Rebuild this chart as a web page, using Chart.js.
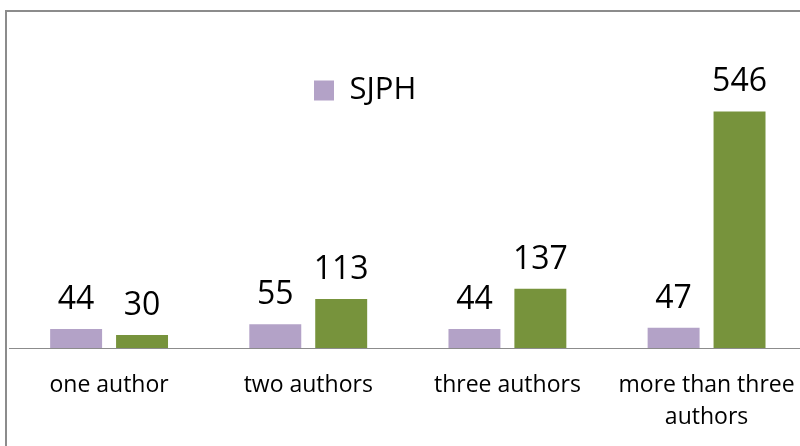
<!DOCTYPE html>
<html><head><meta charset="utf-8">
<script src="https://cdn.jsdelivr.net/npm/chart.js@4/dist/chart.umd.min.js"></script>
<style>
html,body{margin:0;padding:0;background:#fff;overflow:hidden;}
#wrap{position:relative;width:816px;height:446px;}
#frame{position:absolute;left:5px;top:10px;width:900px;height:600px;border-left:2px solid #8c8c8c;border-top:2px solid #8c8c8c;}
canvas{position:absolute;left:0;top:0;}
</style></head><body>
<div id="wrap"><div id="frame"></div><canvas id="c" width="816" height="446"></canvas></div>
<script>
const categories = ['one author', 'two authors', 'three authors', ['more than three', 'authors']];
const seriesNames = ['SJPH', 'Other journals'];
const sjphValues = [44, 55, 44, 47];
const otherValues = [30, 113, 137, 546];
const yMin = 0;
const yMax = 600;

const dataLabels = {
  id: 'dataLabels',
  afterDatasetsDraw(chart) {
    const ctx = chart.ctx;
    ctx.save();
    ctx.font = '32px "Open Sans"';
    ctx.fillStyle = '#000';
    ctx.textAlign = 'center';
    ctx.textBaseline = 'alphabetic';
    chart.data.datasets.forEach((ds, di) => {
      const meta = chart.getDatasetMeta(di);
      meta.data.forEach((el, i) => {
        ctx.fillText(String(ds.data[i]), el.x, el.y - 20);
      });
    });
    ctx.restore();
  }
};

const legendMover = {
  id: 'legendMover',
  afterLayout(chart) {
    const lg = chart.legend;
    if (!lg) return;
    const dx = 304 - lg.left;
    const dy = 65 - lg.top;
    lg.left += dx; lg.right += dx; lg.top += dy; lg.bottom += dy;
  }
};

new Chart(document.getElementById('c'), {
  type: 'bar',
  data: {
    labels: categories,
    datasets: [
      { label: seriesNames[0], data: sjphValues, backgroundColor: '#B3A2C7', borderWidth: 0,
        categoryPercentage: 0.662, barPercentage: 0.788 },
      { label: seriesNames[1], data: otherValues, backgroundColor: '#77933C', borderWidth: 0,
        categoryPercentage: 0.662, barPercentage: 0.788 }
    ]
  },
  options: {
    responsive: false,
    animation: false,
    layout: { padding: { left: 9.5, right: 3, top: 88, bottom: 0 } },
    scales: {
      x: {
        grid: { display: false, drawTicks: false },
        border: { display: true, color: '#8c8c8c', width: 1 },
        ticks: { color: '#000', font: { family: 'Open Sans', size: 23, lineHeight: 1.4 },
                 padding: 21, maxRotation: 0, autoSkip: false },
        afterFit(s) { s.height = 98; }
      },
      y: { display: false, min: yMin, max: yMax }
    },
    plugins: {
      legend: {
        position: 'chartArea',
        align: 'start',
        labels: {
          filter: (item) => item.datasetIndex === 0,
          boxWidth: 20, boxHeight: 20,
          color: '#000',
          font: { family: 'Open Sans', size: 31 }
        }
      },
      tooltip: { enabled: false }
    }
  },
  plugins: [dataLabels, legendMover]
});
</script>
</body></html>
